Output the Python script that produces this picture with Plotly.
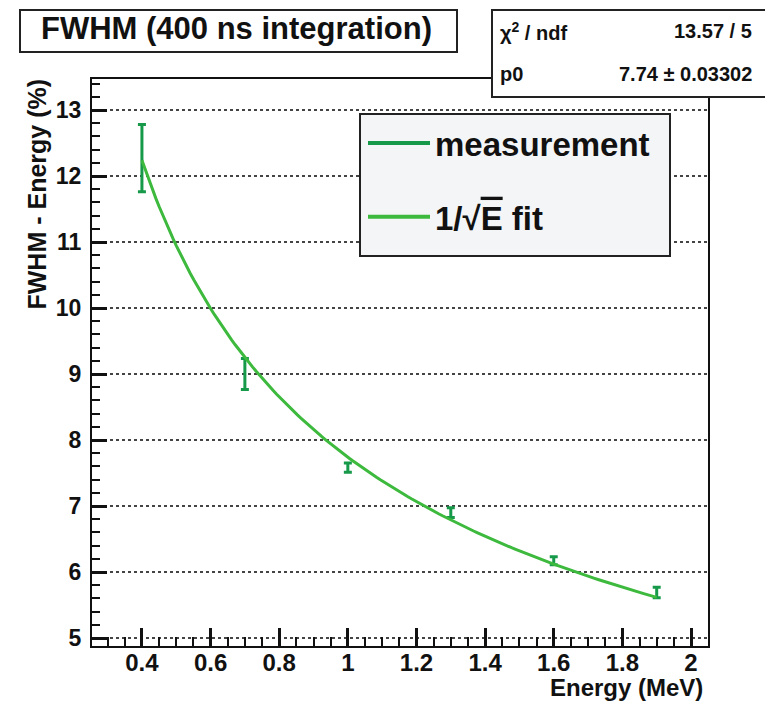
import numpy as np
import plotly.graph_objects as go

# ---------------- data ----------------
ENERGY = [0.4, 0.7, 1.0, 1.3, 1.6, 1.9]          # MeV
FWHM = [12.27, 9.00, 7.58, 6.90, 6.17, 5.69]      # %
FWHM_ERR = [0.51, 0.235, 0.07, 0.075, 0.06, 0.08]
P0 = 7.74            # fit parameter of the 1/sqrt(E) model
P0_ERR = 0.03302
CHI2, NDF = 13.57, 5
FIT_RANGE = [0.4, 1.9]

X_TICK_START, X_TICK_STEP, X_MINOR_STEP = 0.0, 0.2, 0.05
Y_TICK_START, Y_TICK_STEP, Y_MINOR_STEP = 0.0, 1.0, 0.2
LEGEND_NAMES = ["measurement", "1/√<span style='text-decoration:overline'>E</span> fit"]

DARK = "#17994a"
LIGHT = "#3dba3d"
INK = "#111"
FONT = "Liberation Sans, Arial, sans-serif"

X_RANGE = [0.2545, 2.0495]
Y_RANGE = [4.879, 13.47]

# ---------------- geometry ----------------
W, H = 765, 701
L, R, T, B = 92, 708, 79, 646   # plot-area pixel box


def px(x):
    return (x - L) / (R - L)


def py(y):
    return (B - y) / (B - T)


fit_x = np.linspace(FIT_RANGE[0], FIT_RANGE[1], 150)
fit_y = P0 / np.sqrt(fit_x)

fig = go.Figure()

fig.add_trace(go.Scatter(
    x=ENERGY, y=FWHM, mode="markers",
    marker=dict(size=2, color=DARK, opacity=0),
    error_y=dict(type="data", array=FWHM_ERR, color=DARK, thickness=3, width=4),
    showlegend=False, hoverinfo="skip",
))
fig.add_trace(go.Scatter(
    x=fit_x, y=fit_y, mode="lines",
    line=dict(color=LIGHT, width=3),
    showlegend=False, hoverinfo="skip",
))
# legend entries (live on the overlay axes that carry the minor ticks)
fig.add_trace(go.Scatter(
    x=[None], y=[None], mode="lines", line=dict(color=DARK, width=4),
    name=LEGEND_NAMES[0], legendgroup="a", xaxis="x2", yaxis="y2",
))
fig.add_trace(go.Scatter(
    x=[None], y=[None], mode="lines", line=dict(color=LIGHT, width=4),
    name=LEGEND_NAMES[1], legendgroup="b", xaxis="x2", yaxis="y2",
))

shapes = [
    # title box
    dict(type="rect", xref="paper", yref="paper", x0=px(20), x1=px(457), y0=py(52), y1=py(10),
         line=dict(color="#222", width=2), fillcolor="white", layer="above"),
    # stats box
    dict(type="rect", xref="paper", yref="paper", x0=px(492), x1=px(775), y0=py(97), y1=py(10),
         line=dict(color="#222", width=2), fillcolor="white", layer="above"),
    # legend frame
    dict(type="rect", xref="paper", yref="paper", x0=px(360), x1=px(670), y0=py(256), y1=py(114),
         line=dict(color="#222", width=2), fillcolor="#f4f5f7", layer="above"),
]

annotations = [
    dict(text="FWHM (400 ns integration)", xref="paper", yref="paper", x=px(236), y=py(29),
         xanchor="center", yanchor="middle", showarrow=False,
         font=dict(family=FONT, size=31, color=INK, weight="bold")),
    dict(text="χ<sup>2</sup> / ndf", xref="paper", yref="paper", x=px(498), y=py(31),
         xanchor="left", yanchor="middle", showarrow=False,
         font=dict(family=FONT, size=20, color=INK, weight="bold")),
    dict(text=f"{CHI2:.2f} / {NDF}", xref="paper", yref="paper", x=px(754), y=py(31),
         xanchor="right", yanchor="middle", showarrow=False,
         font=dict(family=FONT, size=20, color=INK, weight="bold")),
    dict(text="p0", xref="paper", yref="paper", x=px(498), y=py(74),
         xanchor="left", yanchor="middle", showarrow=False,
         font=dict(family=FONT, size=20, color=INK, weight="bold")),
    dict(text=f"{P0:.2f} ± {P0_ERR}", xref="paper", yref="paper", x=px(754), y=py(74),
         xanchor="right", yanchor="middle", showarrow=False,
         font=dict(family=FONT, size=20, color=INK, weight="bold")),
    # axis titles (ROOT style, right/top aligned)
    dict(text="Energy (MeV)", xref="paper", yref="paper", x=px(705), y=py(688),
         xanchor="right", yanchor="middle", showarrow=False,
         font=dict(family=FONT, size=24, color=INK, weight="bold")),
    dict(text="FWHM - Energy (%)", xref="paper", yref="paper", x=px(37), y=py(77),
         xanchor="center", yanchor="top", textangle=-90, showarrow=False,
         font=dict(family=FONT, size=25, color=INK, weight="bold")),
]

fig.update_layout(
    width=W, height=H,
    margin=dict(l=L, r=W - R, t=T, b=H - B),
    paper_bgcolor="white", plot_bgcolor="white",
    font=dict(family=FONT, color=INK),
    shapes=shapes, annotations=annotations,
    legend=dict(
        x=px(363), y=py(115), xanchor="left", yanchor="top",
        bgcolor="rgba(0,0,0,0)", borderwidth=0,
        font=dict(family=FONT, size=33, color=INK, weight="bold"),
        tracegroupgap=28, itemwidth=62, traceorder="grouped",
    ),
    # major axes: labels, major ticks, frame, grid
    xaxis=dict(
        range=X_RANGE, tickmode="linear", tick0=X_TICK_START, dtick=X_TICK_STEP,
        ticks="inside", ticklen=18, tickwidth=2.5, tickcolor=INK,
        showline=True, linewidth=2, linecolor=INK, mirror=True,
        showgrid=False, zeroline=False,
        tickfont=dict(family=FONT, size=24, color=INK, weight="bold"),
        ticklabelstandoff=-6,
    ),
    yaxis=dict(
        range=Y_RANGE, tickmode="linear", tick0=Y_TICK_START, dtick=Y_TICK_STEP,
        ticks="inside", ticklen=15, tickwidth=2.5, tickcolor=INK,
        showline=True, linewidth=2, linecolor=INK, mirror=True,
        showgrid=True, gridcolor="#444", gridwidth=1.5, griddash="dot", zeroline=False,
        tickfont=dict(family=FONT, size=23, color=INK, weight="bold"),
        ticklabelstandoff=4,
    ),
    # overlay axes: minor ticks only
    xaxis2=dict(
        overlaying="x", anchor="y2", side="bottom", range=X_RANGE,
        tickmode="linear", tick0=X_TICK_START, dtick=X_MINOR_STEP,
        ticks="inside", ticklen=9, tickwidth=2, tickcolor=INK,
        showticklabels=False, showline=False, showgrid=False, zeroline=False,
    ),
    yaxis2=dict(
        overlaying="y", anchor="x2", side="left", range=Y_RANGE,
        tickmode="linear", tick0=Y_TICK_START, dtick=Y_MINOR_STEP,
        ticks="inside", ticklen=8, tickwidth=2, tickcolor=INK,
        showticklabels=False, showline=False, showgrid=False, zeroline=False,
    ),
)

fig.write_html("out.html")
